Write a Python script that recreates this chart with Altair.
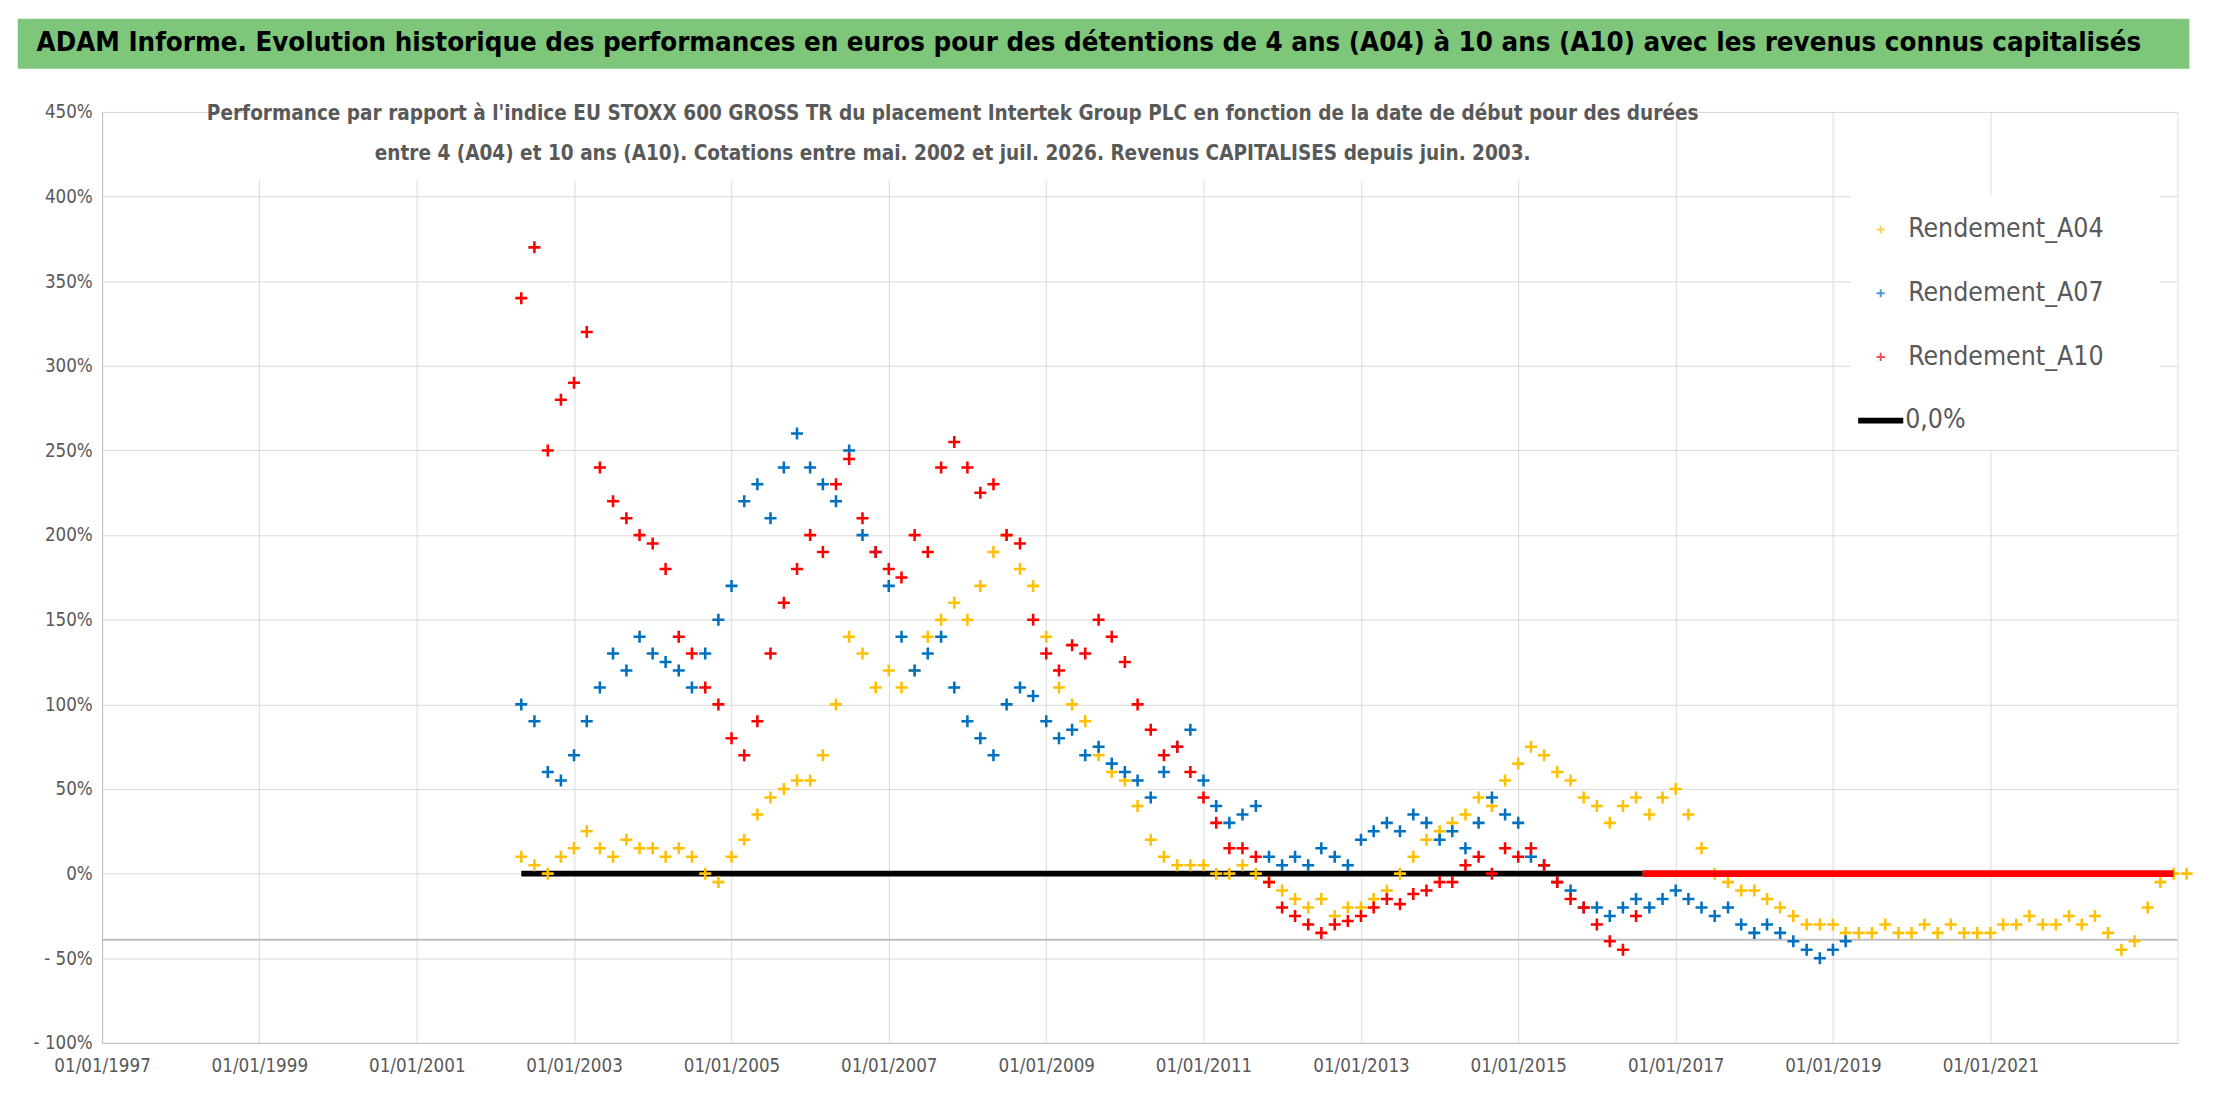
import altair as alt
import pandas as pd

# values, one every two months
a10_start = "2002-05-01"
a10_vals = [340, 370, 250, 280,
            290, 320, 240, 220, 210, 200,
            195, 180, 140, 130, 110, 100,
            80, 70, 90, 130, 160, 180,
            200, 190, 230, 245, 210, 190,
            180, 175, 200, 190, 240, 255,
            240, 225, 230, 200, 195, 150,
            130, 120, 135, 130, 150, 140,
            125, 100, 85, 70, 75, 60,
            45, 30, 15, 15, 10, -5,
            -20, -25, -30, -35, -30, -28,
            -25, -20, -15, -18, -12, -10,
            -5, -5, 5, 10, 0, 15,
            10, 15, 5, -5, -15, -20,
            -30, -40, -45, -25]
a07_start = "2002-05-01"
a07_vals = [100, 90, 60, 55,
            70, 90, 110, 130, 120, 140,
            130, 125, 120, 110, 130, 150,
            170, 220, 230, 210, 240, 260,
            240, 230, 220, 250, 200, 190,
            170, 140, 120, 130, 140, 110,
            90, 80, 70, 100, 110, 105,
            90, 80, 85, 70, 75, 65,
            60, 55, 45, 60, 75, 85,
            55, 40, 30, 35, 40, 10,
            5, 10, 5, 15, 10, 5,
            20, 25, 30, 25, 35, 30,
            20, 25, 15, 30, 45, 35,
            30, 10, 5, -5, -10, -20,
            -20, -25, -20, -15, -20, -15,
            -10, -15, -20, -25, -20, -30,
            -35, -30, -35, -40, -45, -50,
            -45, -40]
a04_start = "2002-05-01"
a04_vals = [10, 5, 0, 10,
            15, 25, 15, 10, 20, 15,
            15, 10, 15, 10, 0, -5,
            10, 20, 35, 45, 50, 55,
            55, 70, 100, 140, 130, 110,
            120, 110, 120, 140, 150, 160,
            150, 170, 190, 200, 180, 170,
            140, 110, 100, 90, 70, 60,
            55, 40, 20, 10, 5, 5,
            5, 0, 0, 5, 0, -5,
            -10, -15, -20, -15, -25, -20,
            -20, -15, -10, 0, 10, 20,
            25, 30, 35, 45, 40, 55,
            65, 75, 70, 60, 55, 45,
            40, 30, 40, 45, 35, 45,
            50, 35, 15, 0, -5, -10,
            -10, -15, -20, -25, -30, -30,
            -30, -35, -35, -35, -30, -35,
            -35, -30, -35, -30, -35, -35,
            -35, -30, -30, -25, -30, -30,
            -25, -30, -25, -35, -45, -40,
            -20, -5, 0, 0]
zero_black = ["2002-05-01", "2016-08-01"]
zero_red = ["2016-08-01", "2023-05-01"]
ref_level = -39

series_names = ["Rendement_A04", "Rendement_A07", "Rendement_A10"]
series_colors = ["#FFC000", "#0070C0", "#FF0000"]
x_tick_years = list(range(1997, 2023, 2))
y_ticks = list(range(-100, 451, 50))

title = ("ADAM Informe. Evolution historique des performances en euros pour des détentions "
         "de 4 ans (A04) à 10 ans (A10) avec les revenus connus capitalisés")
subtitle = ["Performance par rapport à l'indice EU STOXX 600 GROSS TR  du placement Intertek Group PLC "
            "en fonction de la date de début pour des durées",
            "entre 4 (A04) et 10 ans (A10). Cotations entre mai. 2002 et juil. 2026. "
            "Revenus CAPITALISES depuis juin. 2003."]


def frame(start, vals, name):
    dates = pd.date_range(start, periods=len(vals), freq="2MS").strftime("%Y-%m-%d")
    return pd.DataFrame({"date": dates, "value": vals, "serie": name})


df = pd.concat([frame(a04_start, a04_vals, series_names[0]),
                frame(a07_start, a07_vals, series_names[1]),
                frame(a10_start, a10_vals, series_names[2])])

x_ticks = [int(pd.Timestamp(f"{y}-01-01", tz="UTC").timestamp() * 1000) for y in x_tick_years]

FONT = "DejaVu Sans Condensed, Roboto Condensed, Roboto"
GREY = "#595959"
W, H = 2118, 950
PLUS = "M-1,0H1M0,-1V1"

x_enc = alt.X("date:T", title=None,
              scale=alt.Scale(type="utc", domain=["1997-01-01", "2023-05-20"]),
              axis=alt.Axis(values=x_ticks, labelExpr="utcFormat(datum.value, '%d/%m/%Y')",
                            labelFontSize=19, labelColor=GREY, labelFont=FONT, grid=True,
                            labelOverlap=False, labelFlush=False,
                            gridColor="#d9d9d9", domainColor="#bfbfbf", ticks=False,
                            labelPadding=14))
y_enc = alt.Y("value:Q", title=None,
              scale=alt.Scale(domain=[-100, 450], nice=False),
              axis=alt.Axis(values=y_ticks,
                            labelExpr="datum.value < 0 ? '- ' + abs(datum.value) + '%' : datum.value + '%'",
                            labelFontSize=19, labelColor=GREY, labelFont=FONT, grid=True,
                            gridColor="#d9d9d9", domainColor="#bfbfbf", ticks=False,
                            labelPadding=10))

points = alt.Chart(df).mark_point(shape=PLUS, filled=False, size=150, strokeWidth=2.6, opacity=1).encode(
    x=x_enc, y=y_enc,
    color=alt.Color("serie:N", scale=alt.Scale(domain=series_names, range=series_colors), legend=None),
)

black_line = alt.Chart(pd.DataFrame({"date": zero_black, "value": [0, 0]})).mark_line(
    color="black", strokeWidth=6).encode(x="date:T", y="value:Q")
red_line = alt.Chart(pd.DataFrame({"date": zero_red, "value": [0, 0]})).mark_line(
    color="#FF0000", strokeWidth=7).encode(x="date:T", y="value:Q")
ref_rule = alt.Chart(pd.DataFrame({"value": [ref_level]})).mark_rule(
    color="#bfbfbf", strokeWidth=2).encode(y="value:Q")

# banner above the plot
banner = alt.Chart(pd.DataFrame({"t": [title]})).mark_rect(color="#7DC67A").encode(
    x=alt.value(-86), x2=alt.value(W + 12), y=alt.value(-95), y2=alt.value(-44))
banner_text = alt.Chart(pd.DataFrame({"t": [title]})).mark_text(
    fontSize=28, fontWeight="bold", font=FONT, color="black").encode(
    text="t:N", x=alt.value(W / 2 - 52), y=alt.value(-70))

sub_bg = alt.Chart(pd.DataFrame({"t": [0]})).mark_rect(color="white").encode(
    x=alt.value(150), x2=alt.value(1590), y=alt.value(-22), y2=alt.value(70))
sub_df = pd.DataFrame({"t": subtitle, "row": [0, 1]})
sub_text = alt.Chart(sub_df).transform_calculate(py="datum.row * 41 + 2").mark_text(
    fontSize=21, fontWeight="bold", font=FONT, color=GREY).encode(
    text="t:N", x=alt.value(868), y=alt.Y("py:Q", scale=None))

# legend box
LX = 1800
leg_bg = alt.Chart(pd.DataFrame({"t": [0]})).mark_rect(color="white").encode(
    x=alt.value(LX - 15), x2=alt.value(LX + 300), y=alt.value(85), y2=alt.value(345))
leg_df = pd.DataFrame({"name": series_names, "row": [0, 1, 2]})
leg_pts = alt.Chart(leg_df).transform_calculate(py="datum.row * 65 + 120").mark_point(
    shape=PLUS, filled=False, size=70, strokeWidth=2).encode(
    x=alt.value(LX + 15), y=alt.Y("py:Q", scale=None),
    color=alt.Color("name:N", scale=alt.Scale(domain=series_names, range=series_colors), legend=None))
leg_txt = alt.Chart(leg_df).transform_calculate(py="datum.row * 65 + 120").mark_text(
    align="left", fontSize=27, font=FONT, color=GREY).encode(
    text="name:N", x=alt.value(LX + 43), y=alt.Y("py:Q", scale=None))
leg_line = alt.Chart(pd.DataFrame({"t": [0]})).mark_rule(color="black", strokeWidth=6).encode(
    x=alt.value(LX - 8), x2=alt.value(LX + 38), y=alt.value(315))
leg_zero = alt.Chart(pd.DataFrame({"t": ["0,0%"]})).mark_text(
    align="left", fontSize=27, font=FONT, color=GREY).encode(
    text="t:N", x=alt.value(LX + 40), y=alt.value(315))

chart = alt.layer(
    ref_rule, black_line, points, red_line, banner, banner_text, sub_bg, sub_text,
    leg_bg, leg_pts, leg_txt, leg_line, leg_zero
).properties(width=W, height=H, padding={"left": 10, "top": 0, "right": 10, "bottom": 5}
).configure_view(stroke=None).configure(background="white")

chart.save("out.html", embed_options={"renderer": "svg", "actions": False})
